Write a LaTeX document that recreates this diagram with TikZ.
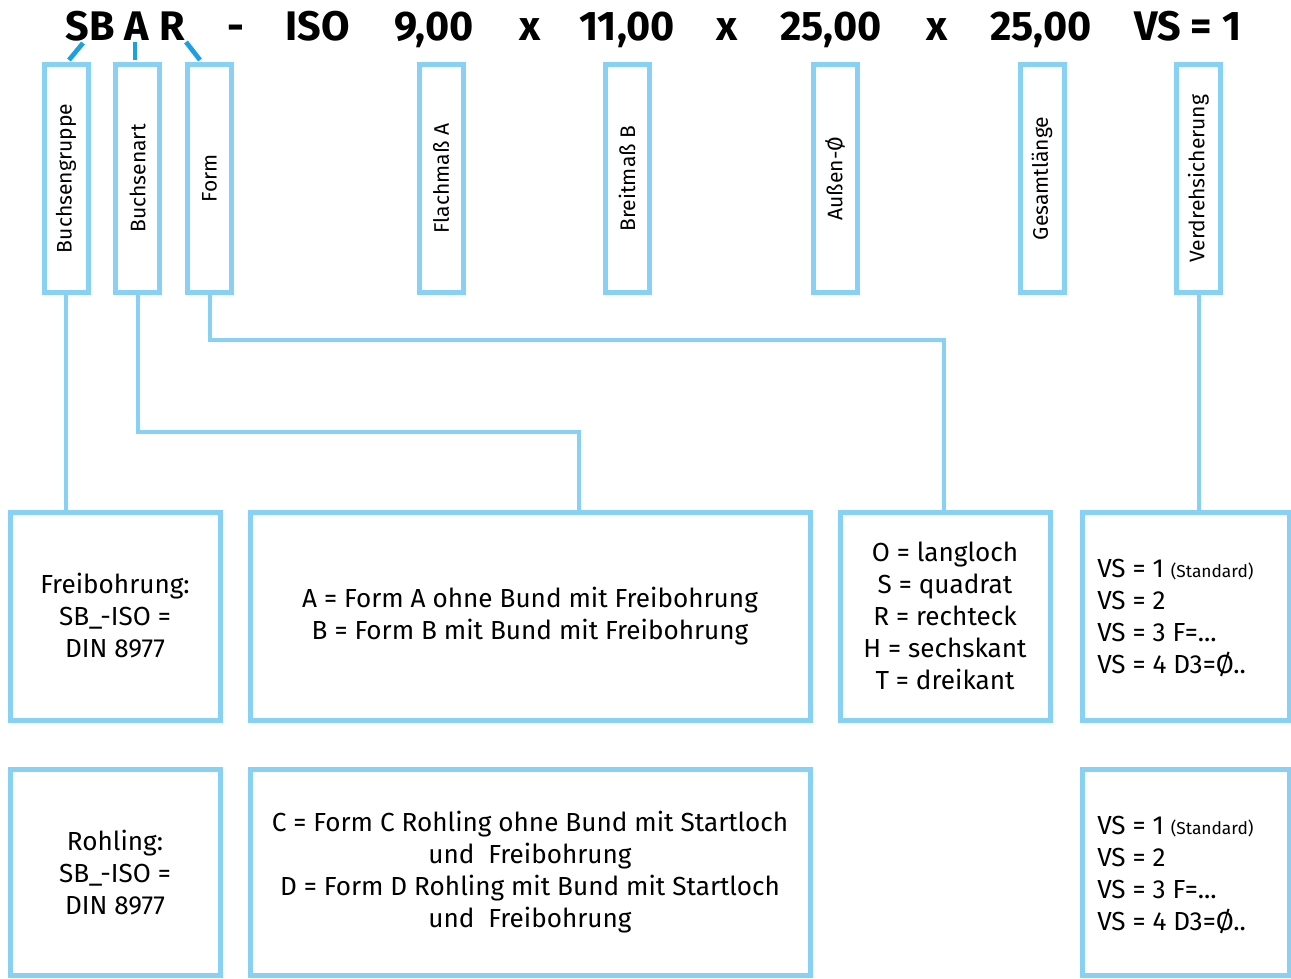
\documentclass[tikz,border=0pt]{standalone}
\usepackage{fontspec}
\usepackage{graphicx}
\setmainfont{Fira Sans}
\definecolor{lb}{HTML}{88D1F4}
\definecolor{db}{HTML}{1BA0E2}
\newcommand{\vlabelfont}{\fontsize{15.8}{18}\selectfont}
\begin{document}
\begin{tikzpicture}[x=0.75pt,y=-0.75pt,
  vbox/.style={draw=lb, line width=3.75pt, minimum width=33pt, minimum height=171pt, inner sep=0pt},
  lbox/.style={draw=lb, line width=3.75pt, inner sep=0pt, align=center, font=\fontsize{19.6}{24}\selectfont},
  ltext/.style={inner sep=0pt, align=left, anchor=west, font=\fontsize{19.6}{24}\selectfont},
  head/.style={font=\fontsize{31}{36}\selectfont\bfseries, anchor=base, inner sep=0pt},
  conn/.style={draw=lb, line width=3pt},
  tickline/.style={draw=db, line width=3.5pt}]
\useasboundingbox (0,0) rectangle (1291,978);

% header
\node[head] (hSB) at (90,40) {SB};
\node[head] (hA) at (137,40) {A};
\node[head] (hR) at (172,40) {R};
\node[head] (hdash) at (236,40) {-};
\node[head] (hISO) at (318,40) {ISO};
\node[head] (h1) at (434,40) {9,00};
\node[head] (x1) at (530,40) {x};
\node[head] (h2) at (627,40) {11,00};
\node[head] (x2) at (727,40) {x};
\node[head] (h3) at (831,40) {25,00};
\node[head] (x3) at (937,40) {x};
\node[head] (h4) at (1041,40) {25,00};
\node[head] (hVS) at (1188,40) {VS = 1};

% vertical boxes
\node[vbox] (b1) at (66,178.5) {\rotatebox{90}{\vlabelfont Buchsengruppe}};
\node[vbox] (b2) at (137.5,178.5) {\rotatebox{90}{\vlabelfont Buchsenart}};
\node[vbox] (b3) at (209.5,178.5) {\rotatebox{90}{\vlabelfont Form}};
\node[vbox] (b4) at (441,178.5) {\rotatebox{90}{\vlabelfont Flachmaß A}};
\node[vbox] (b5) at (627,178.5) {\rotatebox{90}{\vlabelfont Breitmaß B}};
\node[vbox] (b6) at (835,178.5) {\rotatebox{90}{\vlabelfont Außen-Ø}};
\node[vbox] (b7) at (1042,178.5) {\rotatebox{90}{\vlabelfont Gesamtlänge}};
\node[vbox] (b8) at (1198.5,178.5) {\rotatebox{90}{\vlabelfont Verdrehsicherung}};

% ticks
\coordinate (t1a) at (83,43); \coordinate (t1b) at (69,60);
\coordinate (t2a) at (135,42); \coordinate (t2b) at (135,60);
\coordinate (t3a) at (186,42); \coordinate (t3b) at (200,60);
\draw[tickline] (t1a) -- (t1b);
\draw[tickline] (t2a) -- (t2b);
\draw[tickline] (t3a) -- (t3b);

% lower boxes row 1
\node[lbox, minimum width=157.5pt, minimum height=156pt] (ba) at (115,616) {Freibohrung:\\SB\_-ISO =\\DIN 8977};
\node[lbox, minimum width=420pt, minimum height=156pt] (bb) at (530,616) {A = Form A ohne Bund mit Freibohrung\\B = Form B mit Bund mit Freibohrung};
\node[lbox, minimum width=157.5pt, minimum height=156pt] (bc) at (945,616) {O = langloch\\S = quadrat\\R = rechteck\\H = sechskant\\T = dreikant};
\node[lbox, minimum width=155.25pt, minimum height=156pt] (bd) at (1185.5,616) {};
\node[ltext] (td) at (1097,618) {VS = 1 {\fontsize{13}{15}\selectfont (Standard)}\\VS = 2\\VS = 3 F=...\\VS = 4 D3=Ø..};

% lower boxes row 2
\node[lbox, minimum width=157.5pt, minimum height=155pt] (be) at (115,872.5) {Rohling:\\SB\_-ISO =\\DIN 8977};
\node[lbox, minimum width=420pt, minimum height=155pt] (bf) at (530,872.5) {C = Form C Rohling ohne Bund mit Startloch\\und\ \ Freibohrung\\D = Form D Rohling mit Bund mit Startloch\\und\ \ Freibohrung};
\node[lbox, minimum width=155.25pt, minimum height=155pt] (bg) at (1185.5,872.5) {};
\node[ltext] (tg) at (1097,875) {VS = 1 {\fontsize{13}{15}\selectfont (Standard)}\\VS = 2\\VS = 3 F=...\\VS = 4 D3=Ø..};

% connectors
\coordinate (k1) at (579,432);
\coordinate (k2) at (944,340);
\draw[conn] (b1.south) -- (b1.south |- ba.north);
\draw[conn] (b2.south) |- (k1) -- (k1 |- bb.north);
\draw[conn] (b3.south) |- (k2) -- (k2 |- bc.north);
\draw[conn] (b8.south) -- (b8.south |- bd.north);
\end{tikzpicture}
\end{document}
